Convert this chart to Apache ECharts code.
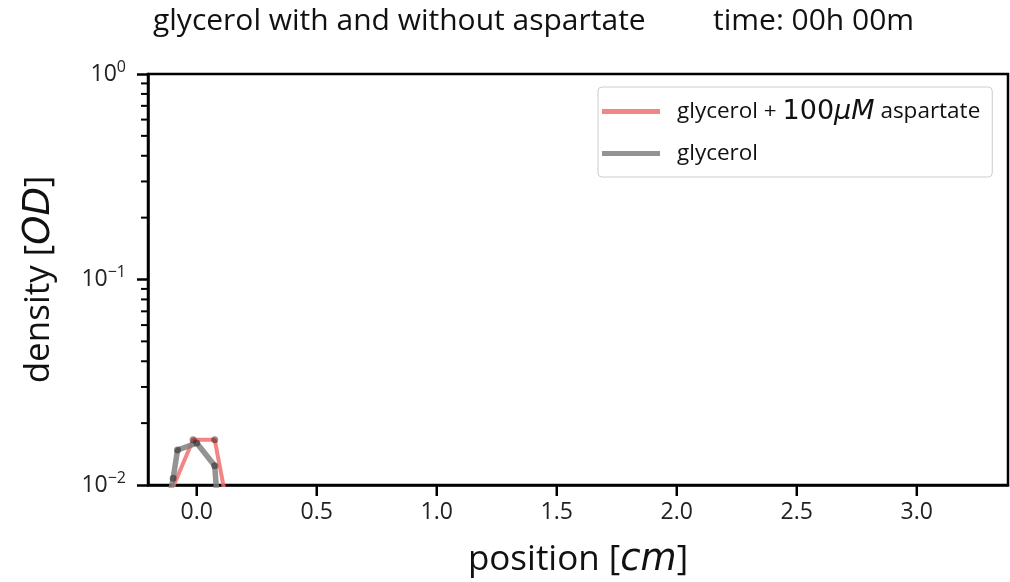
<!DOCTYPE html>
<html><head><meta charset="utf-8">
<script src="https://cdn.jsdelivr.net/npm/echarts@6/dist/echarts.min.js"></script>
<style>html,body{margin:0;padding:0;background:#fff}#c{width:1010px;height:582px}</style>
</head><body><div id="c"></div>
<script>
// data
const aspPosition = [-0.1, -0.015, 0.075, 0.16];
const aspDensity  = [0.0097, 0.0166, 0.0166, 0.005];
const glyPosition = [-0.13, -0.098, -0.08, 0.0, 0.075, 0.1];
const glyDensity  = [0.007, 0.0108, 0.0148, 0.016, 0.0124, 0.005];
const xTicks = [0.0, 0.5, 1.0, 1.5, 2.0, 2.5, 3.0];
const yMajorTicks = [0.01, 0.1, 1];
const yMinorTicks = [0.02,0.03,0.04,0.05,0.06,0.07,0.08,0.09,0.2,0.3,0.4,0.5,0.6,0.7,0.8,0.9];
const seriesNames = ['glycerol + 100μM aspartate', 'glycerol'];

const FONT = 'Open Sans';
const X_MIN = -0.203, X_MAX = 3.38;
const chart = echarts.init(document.getElementById('c'), null, {renderer:'canvas'});
const zip = (a,b)=>a.map((v,i)=>[v,b[i]]);
const supLabel = v => { const e = Math.round(Math.log10(v)); return '{b|10}{s|' + (e===0?'0':'−'+(-e)) + '}'; };

chart.setOption({
  animation:false,
  title:[{
    text:'glycerol with and without aspartate',
    left:148, top:1,
    textStyle:{fontFamily:FONT, fontSize:30, fontWeight:'normal', color:'#111'}
  },{
    text:'time: 00h 00m',
    left:708, top:1,
    textStyle:{fontFamily:FONT, fontSize:30, fontWeight:'normal', color:'#111'}
  }],
  grid:{left:148, top:74, width:860, height:411, show:true, borderColor:'#000', borderWidth:2.5, outerBoundsMode:'none'},
  legend:{
    orient:'vertical', left:598, top:87,
    padding:[11,12,12,4], itemGap:17,
    itemWidth:58, itemHeight:5, icon:'rect',
    borderColor:'#ccc', borderWidth:1, borderRadius:4, backgroundColor:'#fff',
    data:seriesNames,
    formatter: n => n === seriesNames[0] ? 'glycerol + {big|100}{it|μM} aspartate' : n,
    textStyle:{fontFamily:FONT, fontSize:22.5, color:'#111', padding:[0,0,0,12],
      rich:{big:{fontFamily:'DejaVu Sans', fontSize:27, color:'#111'},
            it:{fontFamily:'DejaVu Sans', fontStyle:'italic', fontSize:27, color:'#111'}}}
  },
  xAxis:{
    type:'value', min:X_MIN, max:X_MAX,
    name:'position [{it|cm}]', nameLocation:'middle', nameGap:57,
    nameTextStyle:{fontFamily:FONT, fontSize:35, color:'#111',
      rich:{it:{fontFamily:'DejaVu Sans', fontStyle:'italic', fontSize:37, color:'#111'}}},
    axisLine:{show:true, onZero:false, lineStyle:{color:'#000', width:2.5}},
    axisTick:{show:false},
    axisLabel:{fontFamily:FONT, fontSize:23, color:'#222', margin:16,
      customValues:xTicks, formatter:v=>v.toFixed(1)},
    splitLine:{show:false}
  },
  yAxis:{
    type:'log', logBase:10, min:0.01, max:1,
    name:'density [{it|OD}]', nameLocation:'middle', nameGap:90,
    nameTextStyle:{fontFamily:FONT, fontSize:35, color:'#111',
      rich:{it:{fontFamily:'DejaVu Sans', fontStyle:'italic', fontSize:37, color:'#111'}}},
    axisLine:{show:true, onZero:false, lineStyle:{color:'#000', width:2.5}},
    axisTick:{show:true, length:11, lineStyle:{color:'#000', width:2.5}},
    axisLabel:{margin:22, formatter:supLabel,
      rich:{b:{fontFamily:FONT, fontSize:23, color:'#222'},
            s:{fontFamily:FONT, fontSize:16, color:'#222', verticalAlign:'top', padding:[0,0,14,0]}}},
    splitLine:{show:false}
  },
  series:[{
    name:seriesNames[0], type:'line', data:zip(aspPosition, aspDensity), clip:true,
    lineStyle:{color:'rgba(240,112,112,0.85)', width:4},
    itemStyle:{color:'rgba(240,112,112,0.85)'},
    symbol:'none',
    emphasis:{disabled:true}, z:2,
  },{
    name:seriesNames[1], type:'line', data:zip(glyPosition, glyDensity), clip:true,
    lineStyle:{color:'rgba(128,128,128,0.85)', width:5.5},
    itemStyle:{color:'rgba(128,128,128,0.85)'},
    symbol:'none',
    emphasis:{disabled:true}, z:3
  },{
    name:'aspDots', type:'scatter', data:zip(aspPosition, aspDensity), clip:true,
    symbolSize:7, itemStyle:{color:'rgba(60,10,10,0.6)'}, z:4, silent:true
  },{
    name:'glyDots', type:'scatter', data:zip(glyPosition, glyDensity), clip:true,
    symbolSize:7, itemStyle:{color:'rgba(20,20,20,0.6)'}, z:4, silent:true
  }]
});

// minor y ticks and x ticks placed through the axis scales
const leftX = chart.convertToPixel({gridIndex:0}, [X_MIN, 0.1])[0];
const bottomY = chart.convertToPixel({gridIndex:0}, [0, 0.01])[1];
const els = [];
yMinorTicks.forEach(v=>{
  const y = chart.convertToPixel({gridIndex:0}, [0, v])[1];
  els.push({type:'line', shape:{x1:leftX-7, y1:y, x2:leftX, y2:y}, style:{stroke:'#000', lineWidth:2}});
});
xTicks.forEach(v=>{
  const x = chart.convertToPixel({gridIndex:0}, [v, 0.1])[0];
  els.push({type:'line', shape:{x1:x, y1:bottomY, x2:x, y2:bottomY+11}, style:{stroke:'#000', lineWidth:2.5}});
});
chart.setOption({graphic:{elements:els}});
</script></body></html>
